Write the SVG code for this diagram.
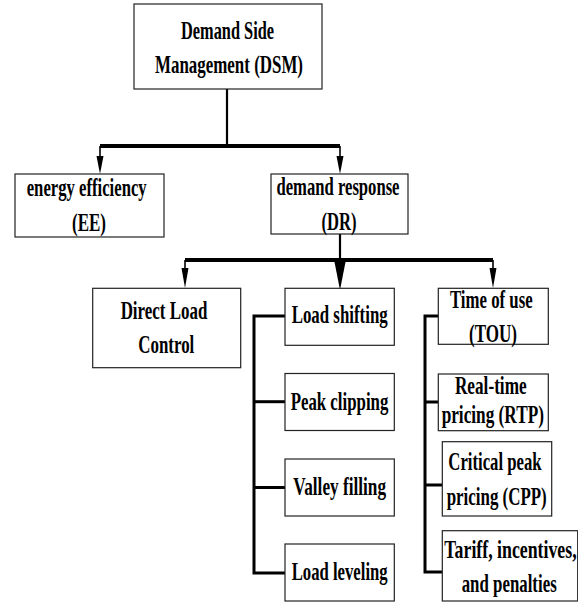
<svg xmlns="http://www.w3.org/2000/svg" width="578" height="602" viewBox="0 0 578 602">
<defs>
<style>
.box{fill:#fff;stroke:#222;stroke-width:1.2}
.t{font-family:"Liberation Serif","Times New Roman",serif;font-weight:bold;font-size:25.5px;fill:#000;text-anchor:middle}
.bar{stroke:#000;stroke-width:4;fill:none}
.br{stroke:#000;stroke-width:3;fill:none}
.stem{stroke:#000;stroke-width:1.6;fill:none}
.head{fill:#000}
</style>
</defs>
<rect width="578" height="602" fill="#fff"/>
<g id="connectors">
<line class="stem" x1="227" y1="89" x2="227" y2="146" style="stroke-width:2.2"/>
<line class="bar" x1="100" y1="146" x2="340" y2="146"/>
<line class="stem" x1="100" y1="146" x2="100" y2="158"/>
<polygon class="head" points="96.5,156 103.5,156 100,174"/>
<line class="stem" x1="340" y1="146" x2="340" y2="158"/>
<polygon class="head" points="336.5,156 343.5,156 340,174"/>
<line class="stem" x1="340" y1="234" x2="340" y2="262" style="stroke-width:2.2"/>
<line class="bar" x1="185" y1="260" x2="493" y2="260"/>
<line class="stem" x1="185" y1="260" x2="185" y2="270"/>
<polygon class="head" points="181.5,268 188.5,268 185,288"/>
<line class="stem" x1="493" y1="260" x2="493" y2="270"/>
<polygon class="head" points="489.5,268 496.5,268 493,288"/>
<polygon class="head" points="334.5,262 345.5,262 340,290"/>
<polyline class="br" points="285,316 254,316 254,573 285,573"/>
<line class="br" x1="254" y1="401.7" x2="285" y2="401.7"/>
<line class="br" x1="254" y1="487.5" x2="285" y2="487.5"/>
<polyline class="br" points="438,316 425,316 425,572 442,572"/>
<line class="br" x1="425" y1="402" x2="438" y2="402"/>
<line class="br" x1="425" y1="485" x2="442" y2="485"/>
</g>
<g id="dsm">
<rect class="box" x="134" y="4" width="188" height="85"/>
<text class="t" x="227.5" y="38.5" textLength="93" lengthAdjust="spacingAndGlyphs">Demand Side</text>
<text class="t" x="229" y="72.5" textLength="148" lengthAdjust="spacingAndGlyphs">Management (DSM)</text>
</g>
<g id="ee">
<rect class="box" x="15" y="174" width="149" height="63"/>
<text class="t" x="86.7" y="196" textLength="120" lengthAdjust="spacingAndGlyphs">energy efficiency</text>
<text class="t" x="89" y="231" textLength="34" lengthAdjust="spacingAndGlyphs">(EE)</text>
</g>
<g id="dr">
<rect class="box" x="271" y="174" width="137" height="60"/>
<text class="t" x="338" y="194.5" textLength="123" lengthAdjust="spacingAndGlyphs">demand response</text>
<text class="t" x="339" y="229.5" textLength="35" lengthAdjust="spacingAndGlyphs">(DR)</text>
</g>
<g id="dlc">
<rect class="box" x="92.7" y="288.3" width="148" height="79.4"/>
<text class="t" x="164" y="319.3" textLength="86.7" lengthAdjust="spacingAndGlyphs">Direct Load</text>
<text class="t" x="166.3" y="353.3" textLength="56" lengthAdjust="spacingAndGlyphs">Control</text>
</g>
<g id="load-shifting">
<rect class="box" x="285" y="288.3" width="109.3" height="57"/>
<text class="t" x="339.7" y="323.3" textLength="96" lengthAdjust="spacingAndGlyphs">Load shifting</text>
</g>
<g id="peak-clipping">
<rect class="box" x="285" y="373.5" width="109.3" height="57"/>
<text class="t" x="339.5" y="410" textLength="97.7" lengthAdjust="spacingAndGlyphs">Peak clipping</text>
</g>
<g id="valley-filling">
<rect class="box" x="285" y="459" width="109.3" height="57"/>
<text class="t" x="339.7" y="495" textLength="92.7" lengthAdjust="spacingAndGlyphs">Valley filling</text>
</g>
<g id="load-leveling">
<rect class="box" x="285" y="544" width="109.3" height="57"/>
<text class="t" x="339.7" y="580" textLength="96" lengthAdjust="spacingAndGlyphs">Load leveling</text>
</g>
<g id="tou">
<rect class="box" x="438.3" y="288.3" width="110" height="56"/>
<text class="t" x="491.3" y="308.3" textLength="82.7" lengthAdjust="spacingAndGlyphs">Time of use</text>
<text class="t" x="493" y="341.5" textLength="48" lengthAdjust="spacingAndGlyphs">(TOU)</text>
</g>
<g id="rtp">
<rect class="box" x="438.3" y="374" width="110" height="56.7"/>
<text class="t" x="490.8" y="394" textLength="71.7" lengthAdjust="spacingAndGlyphs">Real-time</text>
<text class="t" x="492.8" y="423.3" textLength="102.3" lengthAdjust="spacingAndGlyphs">pricing (RTP)</text>
</g>
<g id="cpp">
<rect class="box" x="442.3" y="441.7" width="109.4" height="74.3"/>
<text class="t" x="495" y="470" textLength="93.3" lengthAdjust="spacingAndGlyphs">Critical peak</text>
<text class="t" x="496.7" y="505" textLength="100" lengthAdjust="spacingAndGlyphs">pricing (CPP)</text>
</g>
<g id="tariff">
<rect class="box" x="442.3" y="530.7" width="135.4" height="70.3"/>
<text class="t" x="510.5" y="558.3" textLength="132.3" lengthAdjust="spacingAndGlyphs">Tariff, incentives,</text>
<text class="t" x="509.2" y="591.7" textLength="95" lengthAdjust="spacingAndGlyphs">and penalties</text>
</g>
</svg>
